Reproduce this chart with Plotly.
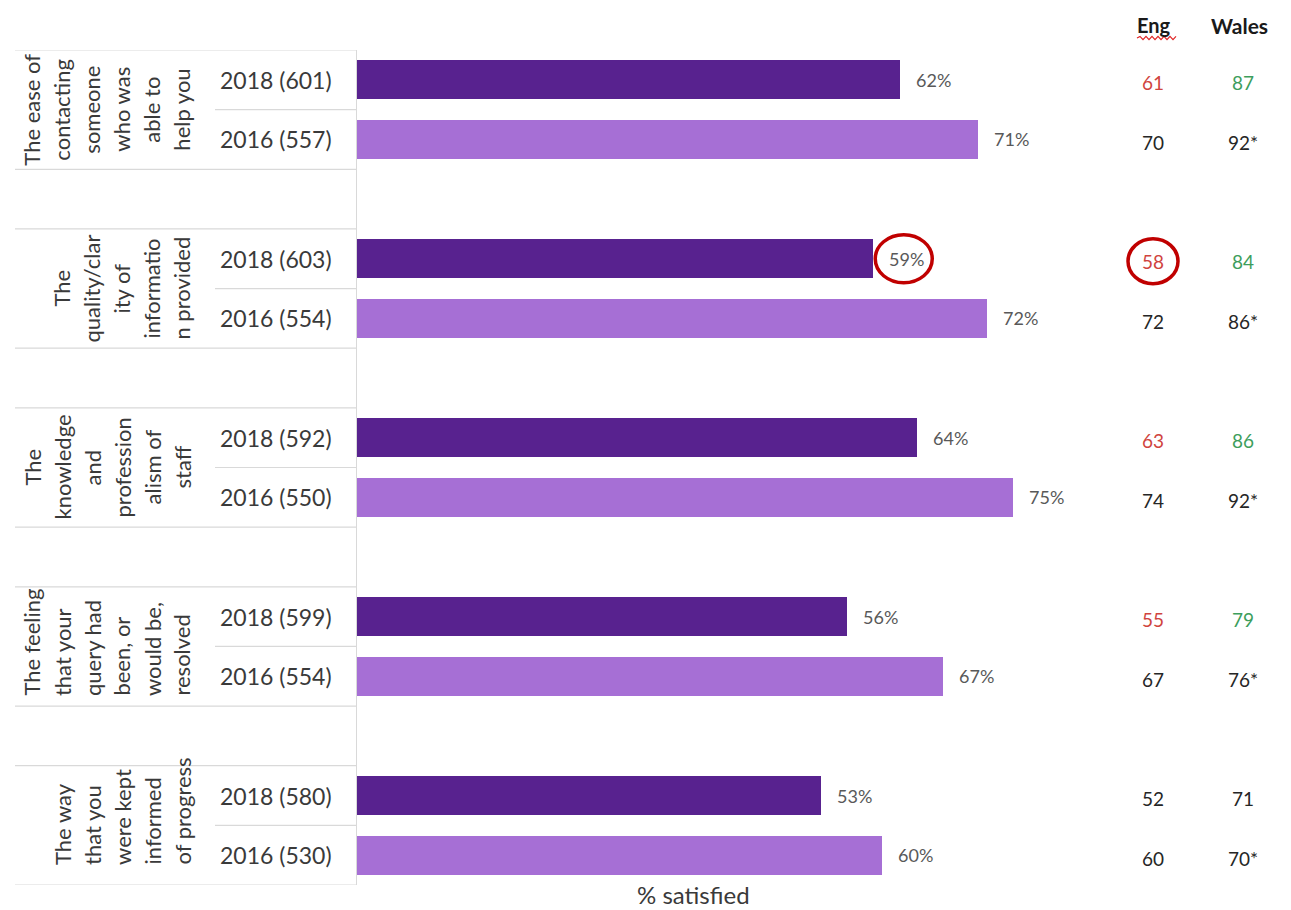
import plotly.graph_objects as go

# Survey items, shown as wrapped lines in the left-hand label column
item_lines = [
    ["The ease of", "contacting", "someone", "who was", "able to", "help you"],
    ["The", "quality/clar", "ity of", "informatio", "n provided"],
    ["The", "knowledge", "and", "profession", "alism of", "staff"],
    ["The feeling", "that your", "query had", "been, or", "would be,", "resolved"],
    ["The way", "that you", "were kept", "informed", "of progress"],
]
# "center" or pixel gap between the group's lower rule and where the lines start
item_align = ["center", "center", "center", 8, 18]

# Wave labels with base sizes
labels_2018 = ["2018 (601)", "2018 (603)", "2018 (592)", "2018 (599)", "2018 (580)"]
labels_2016 = ["2016 (557)", "2016 (554)", "2016 (550)", "2016 (554)", "2016 (530)"]

# % satisfied
pct_2018 = [62, 59, 64, 56, 53]
pct_2016 = [71, 72, 75, 67, 60]

# Comparison columns
eng_2018 = ["61", "58", "63", "55", "52"]
eng_2016 = ["70", "72", "74", "67", "60"]
wales_2018 = ["87", "84", "86", "79", "71"]
wales_2016 = ["92*", "86*", "92*", "76*", "70*"]
highlight_2018 = [True, True, True, True, False]

DARK = "#58228f"
LIGHT = "#a66fd5"
TEXT = "#3a3a3a"
GRID = "#d9d9d9"
FONT = "Lato, 'Open Sans', sans-serif"

W, H = 1291, 910
ML, MR, MT, MB = 357, 59, 50, 25
PW = W - ML - MR
PH = H - MT - MB


def px_x(p):
    """Pixel column -> paper x."""
    return (p - ML) / PW


def px_y(p):
    """Pixel row -> paper y."""
    return (H - MB - p) / PH


pos_2018 = [3 * g for g in range(5)]
pos_2016 = [3 * g + 1 for g in range(5)]

fig = go.Figure()
fig.add_trace(go.Bar(x=pct_2018, y=pos_2018, orientation="h", width=0.65,
                     marker=dict(color=DARK, line=dict(width=0)), name="2018"))
fig.add_trace(go.Bar(x=pct_2016, y=pos_2016, orientation="h", width=0.65,
                     marker=dict(color=LIGHT, line=dict(width=0)), name="2016"))

ann = []
shapes = []

# Value labels just past each bar end
for vals, pos in ((pct_2018, pos_2018), (pct_2016, pos_2016)):
    for v, p in zip(vals, pos):
        ann.append(dict(x=v, y=p, xref="x", yref="y", text=f"{v}%", showarrow=False,
                        xanchor="left", yanchor="middle", xshift=14,
                        font=dict(family=FONT, size=18, color="#595959")))

# Wave labels
for lab, p in zip(labels_2018 + labels_2016, pos_2018 + pos_2016):
    ann.append(dict(x=px_x(334), y=p, xref="paper", yref="y", text=lab, showarrow=False,
                    xanchor="right", yanchor="middle",
                    font=dict(family=FONT, size=23, color=TEXT)))

# Rotated item labels, one column per wrapped line
for g, lines in enumerate(item_lines):
    first_col = 32 if len(lines) == 6 else 62
    for k, line in enumerate(lines):
        cx = px_x(first_col + 30 * k)
        if item_align[g] == "center":
            ann.append(dict(x=cx, y=3 * g + 0.5, xref="paper", yref="y", text=line,
                            showarrow=False, textangle=-90, xanchor="center",
                            yanchor="middle", font=dict(family=FONT, size=22, color=TEXT)))
        else:
            ann.append(dict(x=cx, y=3 * g + 1.5, xref="paper", yref="y", text=line,
                            showarrow=False, textangle=-90, xanchor="center",
                            yanchor="bottom", yshift=item_align[g],
                            font=dict(family=FONT, size=22, color=TEXT)))

# Table rules in the label area
for g in range(5):
    for yv, x0 in ((3 * g - 0.5, 15), (3 * g + 0.5, 215), (3 * g + 1.5, 15)):
        shapes.append(dict(type="line", xref="paper", yref="y", x0=px_x(x0), x1=0,
                           y0=yv, y1=yv, line=dict(color=GRID, width=1.2)))

# Eng / Wales comparison columns
eng_x, wales_x = px_x(1154), px_x(1239)
ann.append(dict(x=eng_x, y=px_y(25), xref="paper", yref="paper", text="<b>Eng</b>",
                showarrow=False, xanchor="center", yanchor="middle",
                font=dict(family=FONT, size=20, color="#1a1a1a")))
ann.append(dict(x=wales_x, y=px_y(25), xref="paper", yref="paper", text="<b>Wales</b>",
                showarrow=False, xanchor="center", yanchor="middle",
                font=dict(family=FONT, size=21, color="#1a1a1a")))
eng_val_x, wales_val_x = px_x(1153), px_x(1243)
for g in range(5):
    c_eng = "#d0443e" if highlight_2018[g] else "#262626"
    c_wal = "#3d9e5c" if highlight_2018[g] else "#262626"
    for x, txt, col, p in ((eng_val_x, eng_2018[g], c_eng, pos_2018[g]),
                           (wales_val_x, wales_2018[g], c_wal, pos_2018[g]),
                           (eng_val_x, eng_2016[g], "#262626", pos_2016[g]),
                           (wales_val_x, wales_2016[g], "#262626", pos_2016[g])):
        ann.append(dict(x=x, y=p, xref="paper", yref="y", text=txt, showarrow=False,
                        xanchor="center", yanchor="middle", yshift=-3,
                        font=dict(family=FONT, size=19, color=col)))

# Red spell-check squiggle under "Eng"
sq_y = px_y(38)
amp = 1.6 / PH
path = f"M {px_x(1137)},{sq_y}"
for i in range(1, 14):
    path += f" L {px_x(1137 + 3 * i)},{sq_y + (amp if i % 2 else -amp)}"
shapes.append(dict(type="path", xref="paper", yref="paper", path=path,
                   line=dict(color="#e02424", width=1.2)))

# Highlight rings around the 2018 quality/clarity figures
shapes.append(dict(type="circle", xref="x", yref="y", xsizemode="pixel", ysizemode="pixel",
                   xanchor=pct_2018[1], yanchor=pos_2018[1], x0=2, x1=59, y0=-24, y1=24,
                   line=dict(color="#c00000", width=3.5)))
shapes.append(dict(type="circle", xref="paper", yref="y", ysizemode="pixel",
                   yanchor=pos_2018[1], x0=px_x(1128), x1=px_x(1178), y0=-25, y1=20,
                   line=dict(color="#c00000", width=3.5)))

# Axis caption
ann.append(dict(x=px_x(693), y=px_y(894), xref="paper", yref="paper",
                text="% satisfied", showarrow=False, xanchor="center", yanchor="middle",
                font=dict(family=FONT, size=24, color=TEXT)))

fig.update_layout(
    width=W, height=H,
    margin=dict(l=ML, r=MR, t=MT, b=MB),
    paper_bgcolor="white", plot_bgcolor="white",
    showlegend=False, bargap=0,
    annotations=ann, shapes=shapes,
    xaxis=dict(range=[0, 100], showgrid=False, zeroline=False, showticklabels=False,
               showline=False, fixedrange=True),
    yaxis=dict(range=[13.5, -0.5], showgrid=False, zeroline=False, showticklabels=False,
               showline=True, linecolor=GRID, linewidth=1.2, fixedrange=True),
)

fig.write_html("out.html")
